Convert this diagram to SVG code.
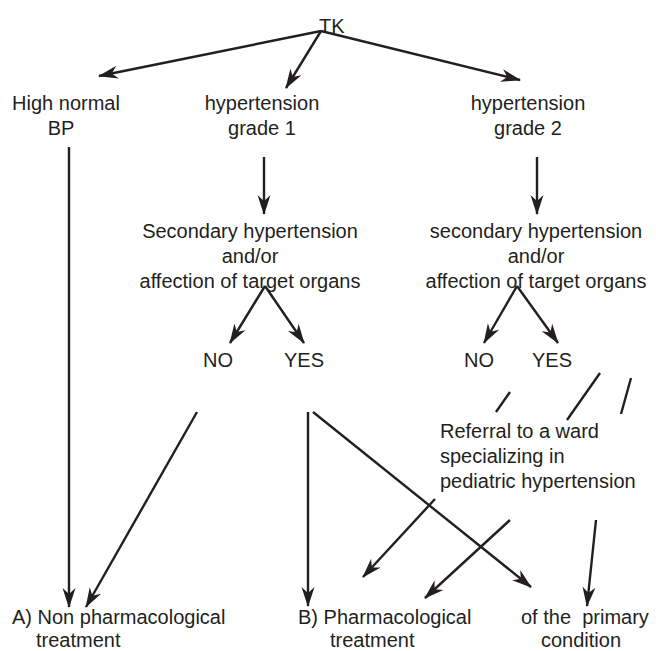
<svg xmlns="http://www.w3.org/2000/svg" width="656" height="651" viewBox="0 0 656 651">
  <style>
    text { font-family: "Liberation Sans", Arial, Helvetica, sans-serif; font-size: 20px; fill: #231f20; }
    .c { text-anchor: middle; }
    .ln { stroke: #231f20; stroke-width: 2.4; fill: none; }
    .ar { marker-end: url(#ah); }
  </style>
  <defs>
    <marker id="ah" markerUnits="userSpaceOnUse" markerWidth="26" markerHeight="18" viewBox="-22 -9 24 18" refX="0" refY="0" orient="auto">
      <path d="M1,0 L-19,-6.5 L-13,0 L-19,6.5 Z" fill="#231f20"/>
    </marker>
  </defs>
  <rect width="656" height="651" fill="#ffffff"/>

  <g id="tk"><text x="319" y="33">TK</text></g>
  <g id="high-normal"><text x="66" y="110" class="c">High normal</text><text x="61" y="135" class="c">BP</text></g>
  <g id="grade1"><text x="262" y="110" class="c">hypertension</text><text x="262" y="135" class="c">grade 1</text></g>
  <g id="grade2"><text x="528" y="110" class="c">hypertension</text><text x="528" y="135" class="c">grade 2</text></g>
  <g id="secondary1"><text x="250" y="238" class="c">Secondary hypertension</text><text x="250" y="263" class="c">and/or</text><text x="250" y="288" class="c">affection of target organs</text></g>
  <g id="secondary2"><text x="536" y="238" class="c">secondary hypertension</text><text x="536" y="263" class="c">and/or</text><text x="536" y="288" class="c">affection of target organs</text></g>
  <g id="no1"><text x="203" y="367">NO</text></g>
  <g id="yes1"><text x="284" y="367">YES</text></g>
  <g id="no2"><text x="464" y="367">NO</text></g>
  <g id="yes2"><text x="532" y="367">YES</text></g>
  <g id="referral"><text x="440" y="438">Referral to a ward</text><text x="440" y="463">specializing in</text><text x="440" y="488">pediatric hypertension</text></g>
  <g id="non-pharm"><text x="12" y="624">A) Non pharmacological</text><text x="36" y="647">treatment</text></g>
  <g id="pharm"><text x="298" y="624">B) Pharmacological</text><text x="330" y="647">treatment</text></g>
  <g id="primary"><text x="521" y="624" xml:space="preserve">of the  primary</text><text x="541" y="647">condition</text></g>

  <g id="connectors">
    <line class="ln ar" x1="321" y1="31" x2="99" y2="76"/>
    <line class="ln ar" x1="321" y1="31" x2="286" y2="88"/>
    <line class="ln ar" x1="321" y1="31" x2="520" y2="80"/>
    <line class="ln ar" x1="69" y1="147" x2="69" y2="607"/>
    <line class="ln ar" x1="264" y1="157" x2="264" y2="214"/>
    <line class="ln ar" x1="537" y1="157" x2="537" y2="214"/>
    <line class="ln ar" x1="265" y1="286" x2="230" y2="343"/>
    <line class="ln ar" x1="265" y1="286" x2="304" y2="343"/>
    <line class="ln ar" x1="517" y1="286" x2="484" y2="343"/>
    <line class="ln ar" x1="517" y1="286" x2="558" y2="343"/>
    <line class="ln" x1="510" y1="392" x2="496" y2="412"/>
    <line class="ln" x1="600" y1="373" x2="567" y2="420"/>
    <line class="ln" x1="631" y1="378" x2="621" y2="414"/>
    <line class="ln ar" x1="197" y1="412" x2="86" y2="607"/>
    <line class="ln ar" x1="308" y1="412" x2="308" y2="606"/>
    <line class="ln ar" x1="313" y1="412" x2="531" y2="587"/>
    <line class="ln ar" x1="435" y1="499" x2="363" y2="577"/>
    <line class="ln ar" x1="510" y1="520" x2="425" y2="598"/>
    <line class="ln ar" x1="596" y1="520" x2="587" y2="606"/>
  </g>
</svg>
